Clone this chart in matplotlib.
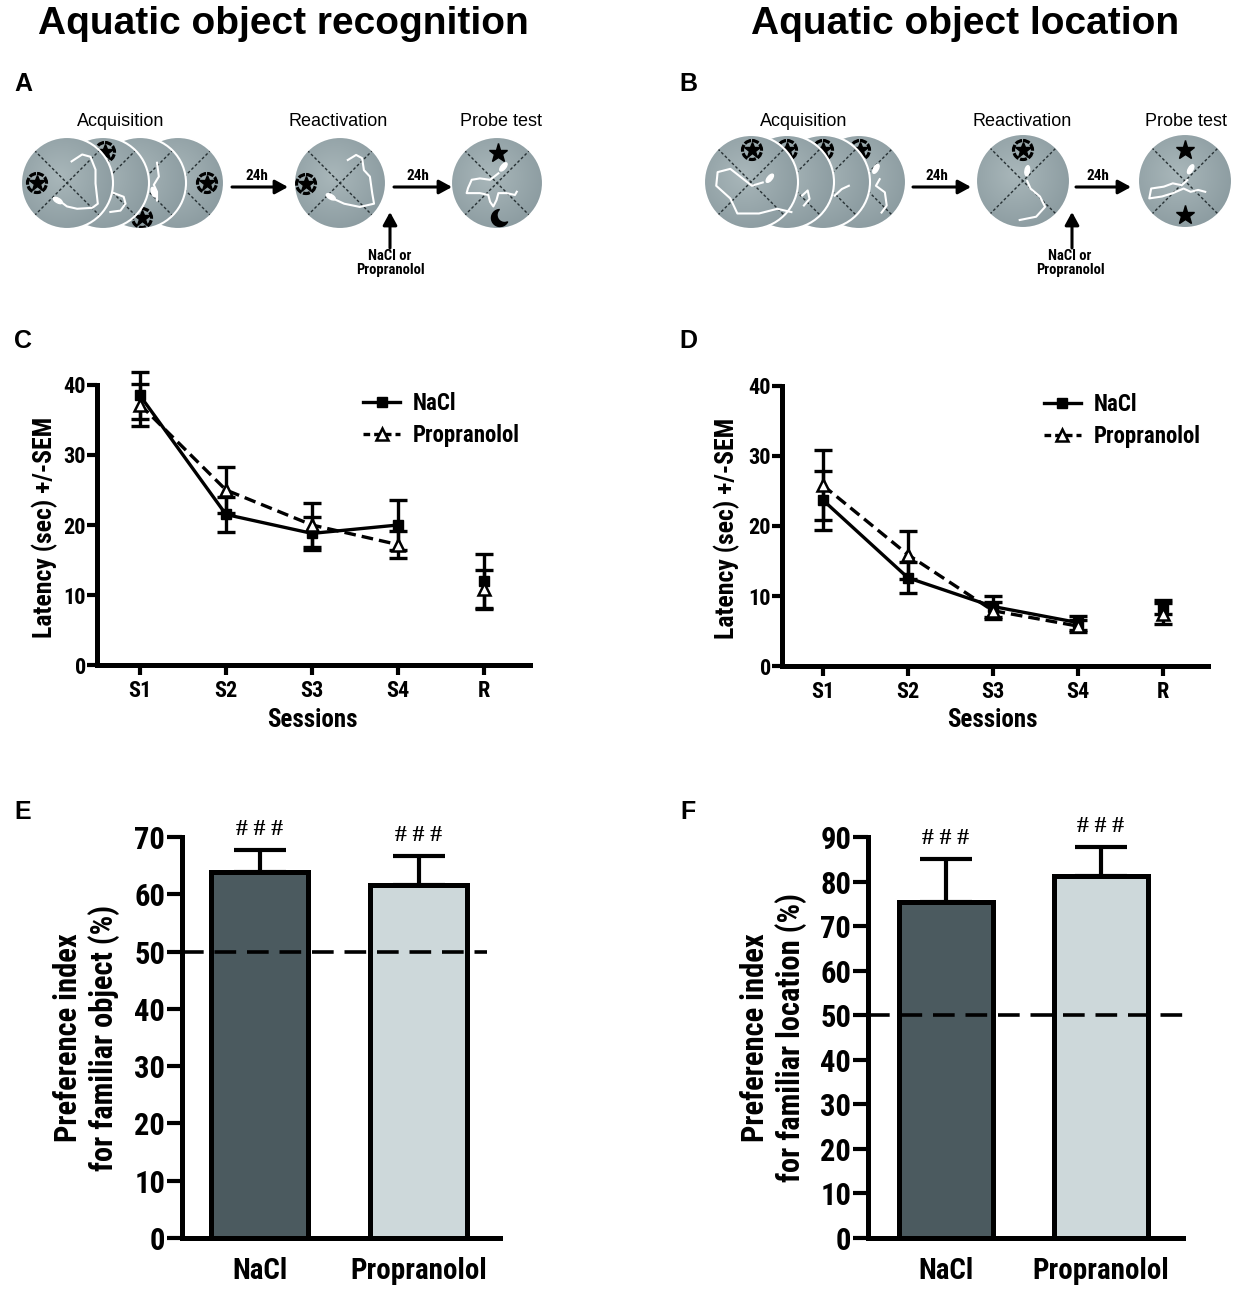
import numpy as np
import matplotlib
matplotlib.use('Agg')
import matplotlib.pyplot as plt
from matplotlib.patches import Circle, Ellipse, Polygon
from matplotlib.lines import Line2D
from matplotlib.colors import LinearSegmentedColormap
from matplotlib import font_manager as fm

# ---- data ----
sessions = ['S1', 'S2', 'S3', 'S4', 'R']

# C: aquatic object recognition, latency per session
c_nacl = [38.5, 21.5, 18.8, 20.0, 12.0]
c_nacl_sem = [3.3, 2.5, 2.3, 3.5, 3.8]
c_prop = [37.2, 25.0, 20.0, 17.2, 10.8]
c_prop_sem = [3.0, 3.3, 3.2, 1.9, 2.8]

# D: aquatic object location, latency per session
d_nacl = [23.7, 12.6, 8.5, 6.2, 8.5]
d_nacl_sem = [4.2, 2.2, 1.5, 1.0, 1.0]
d_prop = [25.8, 15.9, 7.9, 5.7, 7.5]
d_prop_sem = [5.0, 3.4, 1.2, 0.9, 1.5]

# E / F: preference index
groups = ['NaCl', 'Propranolol']
e_mean = [63.9, 61.7]
e_sem = [3.8, 5.0]
f_mean = [75.4, 81.2]
f_sem = [9.6, 6.5]
chance = 50
bar_colors = ['#4b5a5f', '#cdd8da']


def pick_font(names):
    for n in names:
        try:
            fm.findfont(fm.FontProperties(family=n), fallback_to_default=False)
            return n
        except ValueError:
            pass
    return 'DejaVu Sans'


NARROW = pick_font(['Liberation Sans Narrow', 'Roboto Condensed', 'Open Sans Condensed', 'Liberation Sans'])
WIDE = pick_font(['Liberation Sans', 'Arial', 'DejaVu Sans'])
SERIF = pick_font(['Liberation Serif', 'DejaVu Serif'])

plt.rcParams['font.family'] = [NARROW, 'DejaVu Sans']
plt.rcParams['font.weight'] = 'bold'
plt.rcParams['axes.labelweight'] = 'bold'

W, H = 1239, 1300
fig = plt.figure(figsize=(W / 100, H / 100), dpi=100)

# ---- titles and panel letters ----
fig.text(283 / W, 1 - 24 / H, 'Aquatic object recognition', family=WIDE, weight='bold',
         fontsize=28, ha='center', va='center')
fig.text(965 / W, 1 - 24 / H, 'Aquatic object location', family=WIDE, weight='bold',
         fontsize=28, ha='center', va='center')
for letter, px, py in [('A', 23, 84), ('B', 688, 84), ('C', 23, 341),
                       ('D', 688, 341), ('E', 23, 812), ('F', 688, 812)]:
    fig.text(px / W, 1 - py / H, letter, family=WIDE, weight='bold', fontsize=18,
             ha='center', va='center')

# ---- schematic panels A and B (pixel coordinates) ----
sk = fig.add_axes([0, 0, 1, 1])
sk.set_axis_off()
pool_cmap = LinearSegmentedColormap.from_list('pool', ['#a9b7ba', '#8a9a9f'])
yy, xx = np.mgrid[-1:1:120j, -1:1:120j]
grad = np.hypot(xx + 0.15, yy + 0.15)


def pool(cx, cy, r, z, track=None, blob=None):
    im = sk.imshow(grad, cmap=pool_cmap, extent=(cx - r, cx + r, cy + r, cy - r), zorder=z,
                   aspect='auto', interpolation='bilinear', vmin=0, vmax=1.3)
    im.set_clip_path(Circle((cx, cy), r, transform=sk.transData))
    c = 0.7071 * r
    for s in (1, -1):
        sk.plot([cx - c, cx + c], [cy - s * c, cy + s * c], color='#263033', lw=1.0,
                ls=(0, (2, 1.6)), zorder=z + 0.1)
    if track is not None:
        t = np.array(track)
        sk.plot(cx + t[:, 0] * r, cy + t[:, 1] * r, color='white', lw=1.5, zorder=z + 0.2,
                solid_joinstyle='round')
    if blob is not None:
        sk.add_patch(Ellipse((cx + blob[0] * r, cy + blob[1] * r), 10, 4.5, angle=blob[2],
                             color='white', zorder=z + 0.25))
    sk.add_patch(Circle((cx, cy), r, fc='none', ec='white', lw=1.5, zorder=z + 0.4))


def ringed_star(x, y, z):
    sk.add_patch(Circle((x, y), 9.5, fc='none', ec='black', lw=2.3, ls=(0, (2.2, 0.5)),
                        zorder=z + 0.3))
    sk.plot(x, y, marker='*', ms=12, color='black', zorder=z + 0.31)


def star(x, y, z):
    sk.plot(x, y, marker='*', ms=14, color='black', zorder=z + 0.3)


def moon(x, y, z, R=8.5, R2=7.5, dx=4.5, dy=-3.0):
    phi = np.arctan2(dy, dx)
    th = phi + np.linspace(0, 2 * np.pi, 400)
    ox, oy = R * np.cos(th), R * np.sin(th)
    keep_o = np.hypot(ox - dx, oy - dy) > R2
    ix, iy = dx + R2 * np.cos(th), dy + R2 * np.sin(th)
    keep_i = np.hypot(ix, iy) < R
    px = np.concatenate([ox[keep_o], ix[keep_i][::-1]])
    py = np.concatenate([oy[keep_o], iy[keep_i][::-1]])
    sk.add_patch(Polygon(np.column_stack([x + px, y + py]), closed=True, color='black',
                         zorder=z + 0.3))


def arrow(x1, y1, x2, y2):
    sk.annotate('', xy=(x2, y2), xytext=(x1, y1), zorder=30,
                arrowprops=dict(arrowstyle='-|>,head_length=0.55,head_width=0.3',
                                color='black', lw=2.2, shrinkA=0, shrinkB=0,
                                mutation_scale=14))


def label(x, y, s, size=13, bold=False, family=None):
    sk.text(x, y, s, ha='center', va='center', fontsize=size,
            family=family or WIDE, weight='bold' if bold else 'normal', zorder=30,
            linespacing=1.0)


# panel A
r = 46
pool(178, 183, r, 7)
ringed_star(207, 183, 7)
pool(140, 183, r, 8, track=[(0.37, -0.44), (0.41, -0.14), (0.3, 0.04), (0.37, 0.19), (0.37, 0.38)],
     blob=(0.3, 0.2, 70))
ringed_star(142, 218, 8)
pool(103, 183, r, 9, track=[(0.16, 0.19), (0.45, 0.3), (0.49, 0.45), (0.38, 0.6), (0.16, 0.63)])
ringed_star(105, 152, 9)
pool(67, 183, r, 10, track=[(0.1, -0.47), (0.33, -0.62), (0.51, -0.57), (0.62, -0.29), (0.62, 0.01),
                            (0.67, 0.45), (0.55, 0.54), (0.22, 0.56), (0.0, 0.51), (-0.16, 0.39)],
     blob=(-0.2, 0.38, 30))
ringed_star(37, 183, 10)
pool(340, 183, r, 10, track=[(0.17, -0.5), (0.35, -0.61), (0.48, -0.54), (0.52, -0.28), (0.65, -0.14),
                             (0.7, 0.22), (0.74, 0.45), (0.43, 0.52), (0.09, 0.45), (-0.17, 0.33)],
     blob=(-0.2, 0.3, 30))
ringed_star(306, 184, 10)
pool(497, 183, r, 10, track=[(0.03, -0.21), (-0.15, -0.07), (-0.37, -0.1), (-0.55, -0.07),
                             (-0.63, 0.11), (-0.66, 0.22), (-0.37, 0.22), (-0.19, 0.26), (-0.15, 0.41),
                             (-0.08, 0.51), (-0.01, 0.37), (0.03, 0.22), (0.21, 0.22), (0.39, 0.26),
                             (0.43, 0.19)],
     blob=(0.14, -0.35, -50))
star(498, 153, 10)
moon(500, 218, 10)
label(121, 121, 'Acquisition')
label(338, 121, 'Reactivation')
label(501, 121, 'Probe test')
arrow(232, 187, 288, 187)
arrow(394, 187, 452, 187)
label(257, 176, '24h', size=11, bold=True, family=NARROW)
label(418, 176, '24h', size=11, bold=True, family=NARROW)
arrow(390, 248, 390, 212)
label(390, 263, 'NaCl or\nPropranolol', size=10.5, bold=True, family=NARROW)

# panel B
r = 47
pool(859, 182, r, 7, track=[(0.44, -0.06), (0.36, 0.08), (0.55, 0.22), (0.59, 0.5), (0.48, 0.65)],
     blob=(0.36, -0.28, -60))
ringed_star(860, 150, 7)
pool(823, 182, r, 8, track=[(0.25, 0.29), (0.4, 0.15), (0.55, 0.08)])
ringed_star(823, 150, 8)
pool(787, 182, r, 9, track=[(0.32, 0.29), (0.44, 0.18), (0.48, 0.36), (0.36, 0.5)])
ringed_star(787, 150, 9)
pool(751, 182, r, 10, track=[(0.25, 0.01), (0.02, 0.08), (-0.44, -0.28), (-0.71, -0.21),
                             (-0.74, 0.08), (-0.44, 0.35), (-0.29, 0.67), (0.17, 0.67), (0.56, 0.57),
                             (0.86, 0.64)],
     blob=(0.4, -0.08, -50))
ringed_star(752, 150, 10)
pool(1023, 181, r, 10, track=[(0.09, 0.0), (0.16, 0.16), (0.36, 0.33), (0.47, 0.55), (0.28, 0.76),
                              (-0.07, 0.83)],
     blob=(0.09, -0.22, -80))
ringed_star(1023, 150, 10)
pool(1185, 181, r, 10, track=[(0.05, -0.02), (-0.07, 0.09), (-0.26, 0.05), (-0.45, 0.12),
                              (-0.72, 0.16), (-0.76, 0.37), (-0.49, 0.33), (-0.26, 0.26),
                              (-0.03, 0.16), (0.12, 0.23), (0.28, 0.19), (0.43, 0.23)],
     blob=(0.12, -0.25, -60))
star(1185, 150, 10)
star(1185, 215, 10)
label(804, 121, 'Acquisition')
label(1022, 121, 'Reactivation')
label(1186, 121, 'Probe test')
arrow(913, 187, 971, 187)
arrow(1076, 187, 1131, 187)
label(937, 176, '24h', size=11, bold=True, family=NARROW)
label(1098, 176, '24h', size=11, bold=True, family=NARROW)
arrow(1072, 248, 1072, 212)
label(1070, 263, 'NaCl or\nPropranolol', size=10.5, bold=True, family=NARROW)

sk.set_xlim(0, W)
sk.set_ylim(H, 0)


# ---- C and D: latency across sessions ----
def prism_axes(ax, ticklen, fs):
    for s in ('top', 'right'):
        ax.spines[s].set_visible(False)
    for s in ('left', 'bottom'):
        ax.spines[s].set_linewidth(3.6)
    ax.tick_params(width=3, length=ticklen, labelsize=fs)
    ax.tick_params(axis='y', pad=1)
    ax.patch.set_alpha(0)


def session_panel(ax, nacl, nacl_sem, prop, prop_sem, xmin, xmax):
    x = np.arange(1, len(sessions) + 1)
    for mean, sem in [(prop, prop_sem), (nacl, nacl_sem)]:
        eb = ax.errorbar(x, mean, yerr=sem, fmt='none', ecolor='black', elinewidth=2.4,
                         capsize=6.5, capthick=2.4, zorder=3)
        for art in eb.lines[1] + eb.lines[2]:
            art.set_clip_on(False)
    ax.plot(x[:4], prop[:4], color='black', lw=2.4, ls=(0, (3.5, 1.8)), zorder=4)
    ax.plot(x[:4], nacl[:4], color='black', lw=2.4, zorder=4)
    ax.plot(x, nacl, ls='none', marker='s', ms=7.5, color='black', zorder=5, clip_on=False)
    ax.plot(x, prop, ls='none', marker='^', ms=8.5, mfc='white', mec='black', mew=1.8,
            zorder=6, clip_on=False)
    ax.set_xlim(xmin, xmax)
    ax.set_ylim(0, 40)
    ax.set_yticks([0, 10, 20, 30, 40])
    ax.set_xticks(x, sessions)
    prism_axes(ax, 7, 16)
    ax.tick_params(axis='x', pad=4)
    ax.set_xlabel('Sessions', fontsize=18, va='center')
    ax.set_ylabel('Latency (sec) +/-SEM', fontsize=18.5, va='center')
    handles = [Line2D([], [], color='black', lw=2.4, marker='s', ms=7.5),
               Line2D([], [], color='black', lw=2.4, ls=(0, (2, 1.2)), marker='^', ms=8.5,
                      mfc='white', mec='black', mew=1.8)]
    ax.legend(handles, ['NaCl', 'Propranolol'], frameon=False, loc='upper left', fontsize=16.5,
              handlelength=1.6, handletextpad=0.55, labelspacing=0.4, borderpad=0,
              borderaxespad=0, bbox_to_anchor=(0.615, 0.975))


axC = fig.add_axes([97 / W, 1 - 665 / H, 433 / W, 280 / H])
session_panel(axC, c_nacl, c_nacl_sem, c_prop, c_prop_sem, 0.5, 5.535)
axC.xaxis.set_label_coords(0.497, -0.196)
axC.yaxis.set_label_coords(-0.12, 0.49)

axD = fig.add_axes([782 / W, 1 - 666 / H, 426 / W, 280 / H])
session_panel(axD, d_nacl, d_nacl_sem, d_prop, d_prop_sem, 0.518, 5.53)
axD.xaxis.set_label_coords(0.493, -0.193)
axD.yaxis.set_label_coords(-0.129, 0.49)


# ---- E and F: preference index bars ----
def pref_panel(ax, mean, sem, ymax, xmin, xmax, line_end, ylabel):
    x = np.arange(1, len(groups) + 1)
    ax.bar(x, mean, width=0.61, color=bar_colors, edgecolor='black', linewidth=3.6, zorder=2)
    ax.errorbar(x, mean, yerr=[np.zeros(len(sem)), sem], fmt='none', ecolor='black',
                elinewidth=3, capsize=19, capthick=3, zorder=1)
    ax.axhline(chance, xmax=line_end, color='black', lw=2.6, ls=(0, (6, 3)), zorder=3)
    for xi, m, s in zip(x, mean, sem):
        ax.annotate('# # #', (xi, m + s), xytext=(0, 15), textcoords='offset points',
                    ha='center', va='center', family=SERIF, weight='bold', fontsize=17)
    ax.set_xlim(xmin, xmax)
    ax.set_ylim(0, ymax)
    ax.set_yticks(np.arange(0, ymax + 1, 10))
    ax.set_xticks(x, groups)
    prism_axes(ax, 11, 22)
    ax.tick_params(axis='x', length=0, pad=14, labelsize=21)
    ax.set_ylabel(ylabel, fontsize=22, va='center', linespacing=1.2)


axE = fig.add_axes([182 / W, 1 - 1238 / H, 318 / W, 401 / H])
pref_panel(axE, e_mean, e_sem, 70, 0.51, 2.51, 0.96,
           'Preference index\nfor familiar object (%)')
axE.yaxis.set_label_coords(-0.3, 0.5)

axF = fig.add_axes([868 / W, 1 - 1238 / H, 315 / W, 401 / H])
pref_panel(axF, f_mean, f_sem, 90, 0.497, 2.53, 1.0,
           'Preference index\nfor familiar location (%)')
axF.yaxis.set_label_coords(-0.3, 0.5)

fig.savefig('out.png', dpi=100)
